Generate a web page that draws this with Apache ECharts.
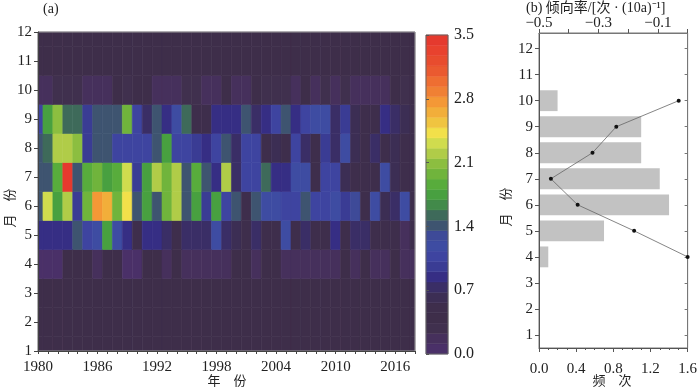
<!DOCTYPE html>
<html><head><meta charset="utf-8">
<script src="https://cdn.jsdelivr.net/npm/echarts@6/dist/echarts.min.js"></script>
<style>html,body{margin:0;padding:0;background:#fff}#c{width:700px;height:389px}</style>
</head><body><div id="c"></div>
<script>
// ---------- data ----------
const years = [1980,1981,1982,1983,1984,1985,1986,1987,1988,1989,1990,1991,1992,1993,1994,1995,1996,1997,1998,1999,2000,2001,2002,2003,2004,2005,2006,2007,2008,2009,2010,2011,2012,2013,2014,2015,2016,2017,2018];
const months = [1,2,3,4,5,6,7,8,9,10,11,12];
const yearLabels = [1980,1986,1992,1998,2004,2010,2016];
const colorTicks = [0,0.7,1.4,2.1,2.8,3.5];

const m1  = [0.40,0.40,0.40,0.40,0.40,0.40,0.40,0.40,0.40,0.40,0.40,0.40,0.40,0.40,0.40,0.40,0.40,0.40,0.40,0.40,0.40,0.40,0.40,0.40,0.40,0.40,0.40,0.40,0.40,0.40,0.40,0.40,0.40,0.40,0.40,0.40,0.40,0.40,0.40];
const m2  = [0.40,0.40,0.40,0.40,0.40,0.40,0.40,0.40,0.40,0.40,0.40,0.40,0.40,0.40,0.40,0.40,0.40,0.40,0.40,0.40,0.40,0.40,0.40,0.40,0.40,0.40,0.40,0.40,0.40,0.40,0.40,0.40,0.40,0.40,0.40,0.40,0.40,0.40,0.40];
const m3  = [0.40,0.40,0.40,0.40,0.40,0.40,0.40,0.40,0.40,0.40,0.40,0.40,0.40,0.40,0.40,0.40,0.40,0.40,0.40,0.40,0.40,0.40,0.40,0.40,0.40,0.40,0.40,0.40,0.40,0.40,0.40,0.40,0.40,0.40,0.40,0.40,0.40,0.40,0.40];
const m4  = [0.06,0.06,0.06,0.40,0.40,0.40,0.17,0.40,0.40,0.06,0.06,0.40,0.40,0.17,0.40,0.17,0.17,0.17,0.17,0.17,0.40,0.40,0.17,0.40,0.40,0.17,0.17,0.17,0.17,0.17,0.17,0.40,0.17,0.40,0.17,0.17,0.40,0.17,0.17];
const m5  = [0.85,0.85,0.85,0.85,1.41,1.07,1.19,1.75,1.19,0.85,0.51,0.85,0.85,0.73,0.51,0.73,0.73,0.73,1.19,0.73,0.62,0.51,0.73,0.51,0.51,1.19,0.51,0.73,0.51,0.51,0.85,0.51,0.73,0.73,0.51,0.51,0.51,0.17,0.51];
const m6  = [1.41,2.31,1.75,2.20,0.96,1.98,2.77,2.65,1.98,2.43,1.41,1.75,1.41,1.98,2.20,1.41,1.75,0.96,1.75,1.07,1.41,0.51,1.41,1.19,1.19,1.07,1.07,1.41,1.07,1.07,1.19,0.96,1.30,0.51,1.19,0.62,0.73,1.19,0.51];
const m7  = [1.41,1.41,1.86,3.44,1.41,1.86,1.98,1.75,1.86,2.31,0.96,1.75,2.20,1.98,2.20,1.41,1.86,1.41,0.85,2.20,0.73,1.07,1.07,1.52,0.85,0.85,1.19,1.19,0.51,1.07,1.07,0.62,0.51,0.51,0.51,1.19,0.62,0.51,0.51];
const m8  = [1.41,1.52,2.20,2.20,2.09,0.96,1.41,1.41,1.07,1.07,1.07,1.07,1.41,1.75,1.07,1.07,0.96,0.85,1.07,1.41,0.73,1.07,1.07,0.51,0.62,0.51,1.07,0.73,0.51,0.96,0.73,1.19,0.62,0.51,0.73,0.51,0.62,0.51,0.51];
const m9  = [1.07,1.75,2.09,1.52,1.52,0.96,1.41,1.41,1.41,1.98,1.07,0.73,1.41,0.85,1.19,1.52,0.51,0.51,0.85,0.85,0.85,1.41,0.73,0.85,1.07,1.41,0.85,1.07,1.19,1.19,0.73,0.96,0.62,0.51,0.51,0.85,0.73,0.62,0.51];
const m10 = [0.17,0.17,0.28,0.28,0.28,0.17,0.17,0.17,0.40,0.28,0.40,0.40,0.17,0.17,0.17,0.28,0.28,0.17,0.17,0.40,0.17,0.17,0.40,0.28,0.28,0.28,0.17,0.40,0.17,0.28,0.17,0.28,0.17,0.17,0.17,0.17,0.40,0.28,0.40];
const m11 = [0.40,0.40,0.40,0.40,0.40,0.40,0.40,0.40,0.40,0.40,0.40,0.40,0.40,0.40,0.40,0.40,0.40,0.40,0.40,0.40,0.40,0.40,0.40,0.40,0.40,0.40,0.40,0.40,0.40,0.40,0.40,0.40,0.40,0.40,0.40,0.40,0.40,0.40,0.40];
const m12 = [0.40,0.40,0.40,0.40,0.40,0.40,0.40,0.40,0.40,0.40,0.40,0.40,0.40,0.40,0.40,0.40,0.40,0.40,0.40,0.40,0.40,0.40,0.40,0.40,0.40,0.40,0.40,0.40,0.40,0.40,0.40,0.40,0.40,0.40,0.40,0.40,0.40,0.40,0.40];
const monthRows = [m1,m2,m3,m4,m5,m6,m7,m8,m9,m10,m11,m12];

// panel (b)
const freqMonths = [4,5,6,7,8,9,10];
const freqValues = [0.1,0.7,1.4,1.3,1.1,1.1,0.2];
const trendMonths = [4,5,6,7,8,9,10];
const trendValues = [0.0,-0.18,-0.37,-0.46,-0.32,-0.24,-0.03];
const freqTicks = [0,0.4,0.8,1.2,1.6];

// colour scale (bottom -> top)
const palette = ['#4a3068','#46305c','#40304e','#3e2e4a','#3e2e4c','#3c2e54','#3a2e66','#362e84','#3a3c94','#3e44a0','#3e4ca2','#3e4a98','#3e5470','#3e6a5a','#428a4a','#48a040','#58ac3c','#70b43c','#8cbe40','#b0cc48','#d0dc4e','#f2e04a','#f0c440','#f2ae3a','#f49836','#f08034','#ee6e32','#ea5a30','#e84c2e','#e8422e','#e53a2e'];
const vMax = 3.5;

// ---------- helpers ----------
const FONT = "'Liberation Serif','Noto Sans CJK SC',serif";
const step = vMax / palette.length;
function colorFor(v){ let i = Math.floor(v/step); i = Math.max(0, Math.min(palette.length-1, i)); return palette[i]; }
function clipRect(r, c){
  const x1 = Math.max(r.x, c.x), y1 = Math.max(r.y, c.y);
  const x2 = Math.min(r.x + r.width, c.x + c.width), y2 = Math.min(r.y + r.height, c.y + c.height);
  if (x2 <= x1 || y2 <= y1) return null;
  return {x:x1, y:y1, width:x2-x1, height:y2-y1};
}
const heatData = [];
monthRows.forEach((row, mi) => row.forEach((v, yi) => heatData.push([years[yi], months[mi], v])));
const bandData = palette.map((c, i) => [i]);

const chart = echarts.init(document.getElementById('c'), null, {renderer:'canvas'});
const lbl = {fontFamily: FONT, fontSize: 15, color: '#222'};

chart.setOption({
  animation: false,
  backgroundColor: '#fff',
  grid: [
    {left: 38, top: 32, width: 377, height: 319, show: true, z: 5, borderColor: '#9a9a9a', borderWidth: 1, backgroundColor: 'transparent'},
    {left: 426, top: 35, width: 22, height: 319, show: true, z: 5, borderColor: '#666', borderWidth: 1, backgroundColor: 'transparent'},
    {left: 539, top: 33, width: 149, height: 315, show: true, z: 5, borderColor: '#777', borderWidth: 1, backgroundColor: 'transparent'}
  ],
  xAxis: [
    {gridIndex: 0, type: 'value', min: 1980, max: 2018, interval: 6, z: 6,
     axisLine: {show: true, lineStyle: {color: '#444'}},
     axisTick: {show: true, length: 3, customValues: years, lineStyle: {color: '#444'}},
     axisLabel: Object.assign({margin: 9, customValues: yearLabels, formatter: v => String(v)}, lbl),
     splitLine: {show: false}},
    {gridIndex: 2, type: 'value', min: 0, max: 1.6, interval: 0.4, position: 'bottom', z: 6,
     axisLine: {show: true, lineStyle: {color: '#555'}},
     axisTick: {show: true, length: 4, lineStyle: {color: '#555'}},
     minorTick: {show: true, splitNumber: 4, length: 2, lineStyle: {color: '#555'}},
     axisLabel: Object.assign({margin: 14, formatter: v => v.toFixed(1)}, lbl),
     splitLine: {show: false}},
    {gridIndex: 2, type: 'value', min: -0.5, max: 0.0, interval: 0.1, position: 'top', z: 6,
     axisLine: {show: true, lineStyle: {color: '#777'}},
     axisTick: {show: true, length: 4, lineStyle: {color: '#555'}},
     axisLabel: Object.assign({margin: 2, formatter: v => {const k = Math.round(v*10); return (Math.abs(k)%2===1) ? '\u2212' + Math.abs(v).toFixed(1) : '';}}, lbl),
     splitLine: {show: false}},
    {gridIndex: 1, type: 'value', min: 0, max: 1, show: false}
  ],
  yAxis: [
    {gridIndex: 0, type: 'value', min: 1, max: 12, interval: 1, z: 6,
     axisLine: {show: true, lineStyle: {color: '#444'}},
     axisTick: {show: true, length: 4, lineStyle: {color: '#444'}},
     axisLabel: Object.assign({margin: 6}, lbl),
     splitLine: {show: false}},
    {gridIndex: 2, type: 'value', min: 0.5, max: 12.6, z: 6,
     axisLine: {show: true, lineStyle: {color: '#555'}},
     axisTick: {show: true, length: 4, customValues: months, lineStyle: {color: '#555'}},
     axisLabel: Object.assign({margin: 6, customValues: months, formatter: v => String(v)}, lbl),
     splitLine: {show: false}},
    {gridIndex: 2, type: 'value', min: 0.5, max: 12.6, position: 'right', z: 6,
     axisLine: {show: true, lineStyle: {color: '#777'}},
     axisTick: {show: true, inside: true, length: 3, customValues: months, lineStyle: {color: '#777'}},
     axisLabel: {show: false}, splitLine: {show: false}},
    {gridIndex: 1, type: 'value', min: 0, max: vMax, interval: 0.7, position: 'right', z: 6,
     axisLine: {show: false},
     axisTick: {show: true, length: 3, lineStyle: {color: '#555'}},
     axisLabel: Object.assign({margin: 6, formatter: v => v.toFixed(1)}, lbl, {fontSize: 16}),
     splitLine: {show: false}}
  ],
  series: [
    {type: 'custom', xAxisIndex: 0, yAxisIndex: 0, data: heatData,
     renderItem: (params, api) => {
       const x = api.value(0), y = api.value(1);
       const p1 = api.coord([x - 0.5, y + 0.5]);
       const p2 = api.coord([x + 0.5, y - 0.5]);
       const shape = clipRect({x: p1[0], y: p1[1], width: p2[0]-p1[0], height: p2[1]-p1[1]}, params.coordSys);
       if (!shape) return null;
       const c = colorFor(api.value(2));
       return {type: 'rect', shape: shape, style: {fill: c, stroke: c, lineWidth: 0.6}};
     }},
    {type: 'custom', xAxisIndex: 3, yAxisIndex: 3, data: bandData,
     renderItem: (params, api) => {
       const i = api.value(0);
       const p1 = api.coord([0, (i+1)*step]);
       const p2 = api.coord([1, i*step]);
       return {type: 'rect', shape: {x: p1[0], y: p1[1], width: p2[0]-p1[0], height: p2[1]-p1[1]}, style: {fill: palette[i], stroke: palette[i], lineWidth: 0.5}};
     }},
    {type: 'custom', xAxisIndex: 1, yAxisIndex: 1, data: freqMonths.map((m, i) => [freqValues[i], m]),
     renderItem: (params, api) => {
       const v = api.value(0), m = api.value(1);
       const p1 = api.coord([0, m + 0.4]);
       const p2 = api.coord([v, m - 0.4]);
       return {type: 'rect', shape: {x: p1[0], y: p1[1], width: p2[0]-p1[0], height: p2[1]-p1[1]}, style: {fill: '#c2c2c2'}};
     }},
    {type: 'line', xAxisIndex: 2, yAxisIndex: 1, z: 7,
     data: trendMonths.map((m, i) => [trendValues[i], m]),
     lineStyle: {color: '#666', width: 0.8},
     symbol: 'circle', symbolSize: 4, itemStyle: {color: '#111'}}
  ],
  graphic: [
    {type: 'text', left: 43, top: 2, style: {text: '(a)', font: "14px " + FONT, fill: '#222'}},
    {type: 'text', left: 526, top: 1, style: {text: '(b) 倾向率/[次 · (10a)\u207B\u00B9]', font: "14px " + FONT, fill: '#222'}},
    {type: 'text', x: 227, y: 382, style: {text: '年\u3000份', font: "13px " + FONT, fill: '#222', align: 'center', verticalAlign: 'middle'}},
    {type: 'text', x: 612, y: 382, style: {text: '频\u3000次', font: "13px " + FONT, fill: '#222', align: 'center', verticalAlign: 'middle'}},
    {type: 'text', x: 11, y: 208, rotation: Math.PI/2, style: {text: '月\u3000份', font: "13px " + FONT, fill: '#222', align: 'center', verticalAlign: 'middle'}},
    {type: 'text', x: 507, y: 207, rotation: Math.PI/2, style: {text: '月\u3000份', font: "13px " + FONT, fill: '#222', align: 'center', verticalAlign: 'middle'}}
  ]
});
</script></body></html>
